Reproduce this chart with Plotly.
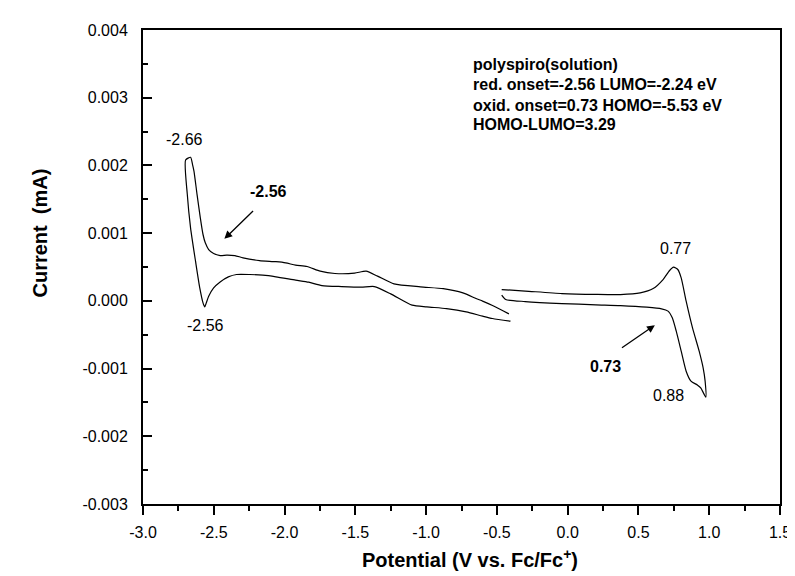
import plotly.graph_objects as go

# Left (reduction) loop, in scan order: upper branch from right end to the spike, then lower branch back
left_x = [-0.415, -0.531, -0.601, -0.647, -0.740, -0.879, -1.041, -1.227, -1.343, -1.424, -1.505,
          -1.644, -1.748, -1.841, -1.922, -1.992, -2.061, -2.177, -2.293, -2.351, -2.409, -2.455,
          -2.501, -2.536, -2.560, -2.576, -2.595, -2.618, -2.640, -2.650, -2.664, -2.699,
          -2.687, -2.664, -2.629, -2.599, -2.576, -2.564, -2.553, -2.536, -2.501, -2.455, -2.397,
          -2.339, -2.247, -2.154, -2.061, -1.922, -1.830, -1.736, -1.597, -1.458, -1.366, -1.250,
          -1.099, -0.995, -0.856, -0.717, -0.601, -0.531, -0.404]
left_y = [-0.000192, -0.000069, -0.000004, 0.000034, 0.000118, 0.000180, 0.000207, 0.000251,
          0.000365, 0.000438, 0.000409, 0.000404, 0.000438, 0.000507, 0.000527, 0.000561,
          0.000578, 0.000595, 0.000635, 0.000669, 0.000675, 0.000669, 0.000699, 0.000758,
          0.000857, 0.000980, 0.001226, 0.001570, 0.001916, 0.002013, 0.002120, 0.002080,
          0.001570, 0.001078, 0.000586, 0.000192, -0.000030, -0.000089, -0.000030, 0.000069,
          0.000192, 0.000280, 0.000354, 0.000389, 0.000389, 0.000379, 0.000355, 0.000306,
          0.000276, 0.000226, 0.000211, 0.000202, 0.000211, 0.000103, -0.000064, -0.000089,
          -0.000114, -0.000162, -0.000226, -0.000261, -0.000300]

# Right (oxidation) loop, in scan order
right_x = [-0.466, -0.300, -0.040, 0.200, 0.373, 0.512, 0.604, 0.674, 0.720, 0.748, 0.778,
           0.802, 0.837, 0.882, 0.929, 0.957, 0.971, 0.976, 0.940, 0.918, 0.871, 0.837, 0.802,
           0.767, 0.739, 0.709, 0.663, 0.559, 0.373, 0.200, -0.040, -0.300, -0.438, -0.466]
right_y = [0.000167, 0.000145, 0.000108, 0.000095, 0.000093, 0.000118, 0.000182, 0.000315,
           0.000448, 0.000498, 0.000463, 0.000340, -0.000004, -0.000399, -0.000743, -0.000990,
           -0.001186, -0.001422, -0.001285, -0.001245, -0.001186, -0.001039, -0.000743,
           -0.000448, -0.000251, -0.000152, -0.000118, -0.000093, -0.000069, -0.000058,
           -0.000040, -0.000010, 0.000020, 0.000084]

x_ticks = [-3.0, -2.5, -2.0, -1.5, -1.0, -0.5, 0.0, 0.5, 1.0, 1.5]
x_ticktext = ["-3.0", "-2.5", "-2.0", "-1.5", "-1.0", "-0.5", "0.0", "0.5", "1.0", "1.5"]
y_ticks = [-0.003, -0.002, -0.001, 0.0, 0.001, 0.002, 0.003, 0.004]
y_ticktext = ["-0.003", "-0.002", "-0.001", "0.000", "0.001", "0.002", "0.003", "0.004"]

# Peak labels: (x, y, text, bold)
peak_labels = [(-2.708, 0.00238, "-2.66", False),
               (-2.113, 0.00162, "-2.56", True),
               (-2.555, -0.00037, "-2.56", False),
               (0.762, 0.00077, "0.77", False),
               (0.268, -0.000975, "0.73", True),
               (0.713, -0.00140, "0.88", False)]
# Arrows: (tip_x, tip_y, tail_x, tail_y)
arrows = [(-2.425, 0.000916, -2.212, 0.001349),
          (0.616, -0.000359, 0.373, -0.000709)]
info_lines = ["polyspiro(solution)",
              "red. onset=-2.56 LUMO=-2.24 eV",
              "oxid. onset=0.73 HOMO=-5.53 eV",
              "HOMO-LUMO=3.29"]
info_y = [0.00349, 0.00319, 0.00289, 0.00260]

FONT = "Liberation Sans, Arial, sans-serif"

fig = go.Figure()
fig.add_trace(go.Scatter(x=left_x, y=left_y, mode="lines",
                         line=dict(color="black", width=1.2, shape="spline", smoothing=0.6),
                         showlegend=False, hoverinfo="skip"))
fig.add_trace(go.Scatter(x=right_x, y=right_y, mode="lines",
                         line=dict(color="black", width=1.2, shape="spline", smoothing=0.6),
                         showlegend=False, hoverinfo="skip"))

annotations = []
for x, y, t, b in peak_labels:
    annotations.append(dict(x=x, y=y, xref="x", yref="y", text=f"<b>{t}</b>" if b else t,
                            showarrow=False, font=dict(size=16, color="black", family=FONT)))
for tx, ty, ax, ay in arrows:
    annotations.append(dict(x=tx, y=ty, xref="x", yref="y", ax=ax, ay=ay, axref="x", ayref="y",
                            text="", showarrow=True, arrowhead=2, arrowsize=1.2, arrowwidth=1.3,
                            arrowcolor="black"))
for t, y in zip(info_lines, info_y):
    annotations.append(dict(x=-0.68, y=y, xref="x", yref="y", text=f"<b>{t}</b>",
                            xanchor="left", yanchor="middle", showarrow=False,
                            font=dict(size=16, color="black", family=FONT)))
annotations.append(dict(x=-0.1623, y=0.572, xref="paper", yref="paper", text="<b>Current  (mA)</b>",
                        textangle=-90, xanchor="center", yanchor="middle", showarrow=False,
                        font=dict(size=20, color="black", family=FONT)))
annotations.append(dict(x=0.513, y=-0.115, xref="paper", yref="paper",
                        text="<b>Potential (V vs. Fc/Fc<sup>+</sup>)</b>", showarrow=False,
                        xanchor="center", yanchor="middle",
                        font=dict(size=20, color="black", family=FONT)))

fig.update_layout(
    width=795, height=576,
    margin=dict(l=135, r=15, t=22, b=80),
    paper_bgcolor="white", plot_bgcolor="white",
    font=dict(family=FONT, size=16, color="black"),
    annotations=annotations,
    xaxis=dict(range=[-3.0, 1.5], tickmode="array", tickvals=x_ticks, ticktext=x_ticktext,
               ticks="outside", ticklen=9, tickwidth=1.5, tickcolor="black",
               showline=True, linecolor="black", linewidth=2, mirror=True,
               showgrid=False, zeroline=False, ticklabelstandoff=4,
               minor=dict(tickmode="linear", tick0=-3.0, dtick=0.25, ticks="outside",
                          ticklen=5, tickwidth=1.5, tickcolor="black", showgrid=False),
               tickfont=dict(size=16, family=FONT, color="black")),
    yaxis=dict(range=[-0.003, 0.004], tickmode="array", tickvals=y_ticks, ticktext=y_ticktext,
               ticks="inside", ticklen=9, tickwidth=1.5, tickcolor="black",
               showline=True, linecolor="black", linewidth=2, mirror=True,
               showgrid=False, zeroline=False, ticklabelstandoff=10,
               minor=dict(tickmode="linear", tick0=0.0, dtick=0.0005, ticks="inside",
                          ticklen=5, tickwidth=1.5, tickcolor="black", showgrid=False),
               tickfont=dict(size=16, family=FONT, color="black")),
)

fig.write_html("out.html")
